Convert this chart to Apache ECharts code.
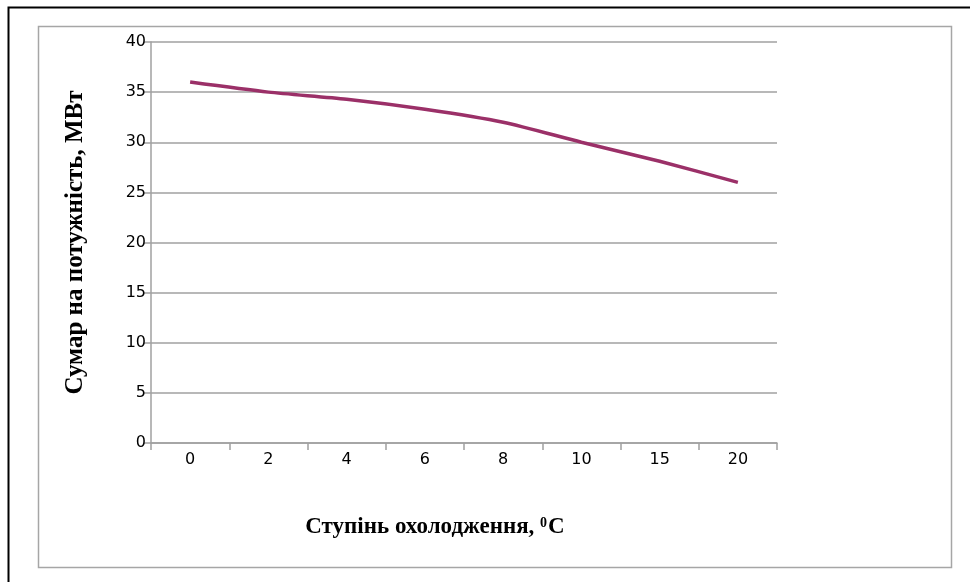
<!DOCTYPE html>
<html>
<head>
<meta charset="utf-8">
<script src="https://cdn.jsdelivr.net/npm/echarts@6/dist/echarts.min.js"></script>
<style>
html,body{margin:0;padding:0;background:#fff;}
#chart{width:970px;height:582px;}
</style>
</head>
<body>
<div id="chart"></div>
<script>
var categories = ['0', '2', '4', '6', '8', '10', '15', '20'];
var powerValues = [36, 35, 34.3, 33.3, 32, 30, 28.1, 26];
var yTicks = { min: 0, max: 40, interval: 5 };
var xTitle = 'Ступінь охолодження, ';
var yTitle = 'Сумар на потужність, МВт';

var chart = echarts.init(document.getElementById('chart'), null, { renderer: 'canvas' });
chart.setOption({
  animation: false,
  backgroundColor: '#fff',
  graphic: [
    { type: 'rect', shape: { x: 8.5, y: 7.5, width: 980, height: 600 }, style: { fill: 'none', stroke: '#000', lineWidth: 2 }, silent: true, z: -1 },
    { type: 'rect', shape: { x: 38.5, y: 26.5, width: 913, height: 541 }, style: { fill: '#fff', stroke: '#a6a6a6', lineWidth: 1.5 }, silent: true, z: -1 }
  ],
  grid: { left: 151, top: 42, right: 193, bottom: 139 },
  xAxis: {
    type: 'category',
    data: categories,
    boundaryGap: true,
    name: '{t|' + xTitle + '}{s|0}{t|C}',
    nameLocation: 'middle',
    nameGap: 72,
    nameTextStyle: {
      padding: [0, 58, 0, 0],
      rich: {
        t: { fontFamily: 'Liberation Serif', fontWeight: 'bold', fontSize: 23, color: '#000', verticalAlign: 'bottom', lineHeight: 24 },
        s: { fontFamily: 'Liberation Serif', fontWeight: 'bold', fontSize: 14, color: '#000', verticalAlign: 'bottom', lineHeight: 24, padding: [0, 1, 9, 0] }
      }
    },
    axisLine: { show: true, lineStyle: { color: '#a0a0a0', width: 1.5 } },
    axisTick: { show: true, inside: false, length: 7, alignWithLabel: false, lineStyle: { color: '#a0a0a0', width: 1.5 } },
    axisLabel: { fontFamily: 'DejaVu Sans', fontSize: 16, color: '#000', margin: 9 },
    splitLine: { show: false }
  },
  yAxis: {
    type: 'value',
    min: yTicks.min,
    max: yTicks.max,
    interval: yTicks.interval,
    name: yTitle,
    nameLocation: 'middle',
    nameGap: 63,
    nameRotate: 90,
    nameTextStyle: { fontFamily: 'Liberation Serif', fontWeight: 'bold', fontSize: 25, color: '#000' },
    axisLine: { show: true, lineStyle: { color: '#a0a0a0', width: 1.5 } },
    axisTick: { show: true, inside: false, length: 7, lineStyle: { color: '#a0a0a0', width: 1.5 } },
    axisLabel: { fontFamily: 'DejaVu Sans', fontSize: 16, color: '#000', margin: 5, padding: [6, 0, 0, 0] },
    splitLine: { show: true, lineStyle: { color: '#a0a0a0', width: 1.5 } }
  },
  series: [{
    type: 'line',
    data: powerValues,
    smooth: 0.25,
    symbol: 'none',
    lineStyle: { color: '#9b3068', width: 3.5 }
  }]
});
</script>
</body>
</html>
